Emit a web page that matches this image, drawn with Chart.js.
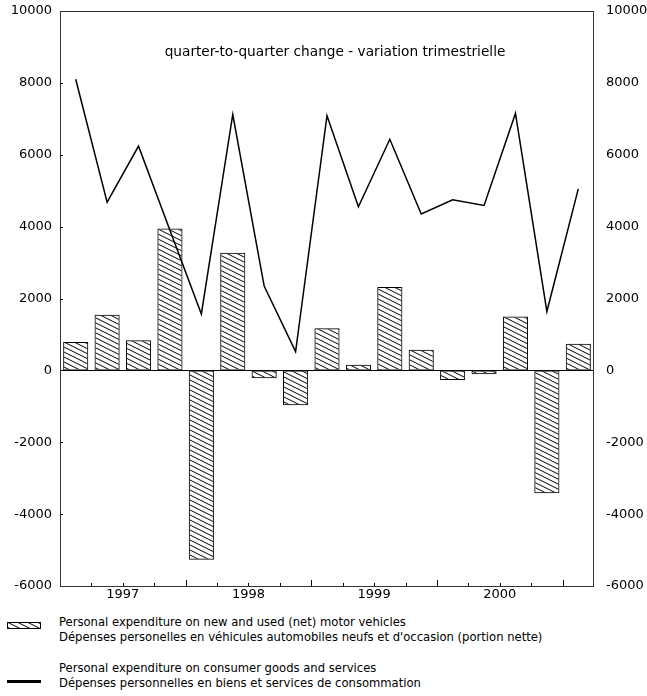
<!DOCTYPE html>
<html>
<head>
<meta charset="utf-8">
<script src="https://cdn.jsdelivr.net/npm/chart.js@4.4.1/dist/chart.umd.min.js"></script>
<style>
  body { margin: 0; background: #fff; }
  #wrap { position: relative; width: 647px; height: 696px; font-family: "DejaVu Sans", sans-serif; }
  #chart { position: absolute; left: 0; top: 0; }
  .leg { position: absolute; left: 59px; font-size: 11.6px; line-height: 15px; color: #000; white-space: nowrap; }
</style>
</head>
<body>
<div id="wrap">
  <canvas id="chart" width="647" height="610"></canvas>
  <canvas id="swatch" width="34" height="7" style="position:absolute;left:7px;top:622px"></canvas>
  <div style="position:absolute;left:7px;top:680px;width:34px;height:3px;background:#000"></div>
  <div class="leg" style="top:615px">Personal expenditure on new and used (net) motor vehicles<br>Dépenses personelles en véhicules automobiles neufs et d'occasion (portion nette)</div>
  <div class="leg" style="top:661px">Personal expenditure on consumer goods and services<br>Dépenses personnelles en biens et services de consommation</div>
</div>
<script>
// quarters 1997Q1 .. 2001Q1
const quarters = ['1997Q1','1997Q2','1997Q3','1997Q4','1998Q1','1998Q2','1998Q3','1998Q4',
                  '1999Q1','1999Q2','1999Q3','1999Q4','2000Q1','2000Q2','2000Q3','2000Q4','2001Q1'];
const vehicles = [790, 1550, 835, 3950, -5270, 3270, -220, -970, 1170, 155, 2320, 575, -270, -105, 1500, -3420, 740];
const consumer = [8100, 4680, 6240, 3900, 1570, 7120, 2345, 520, 7085, 4550, 6430, 4350, 4745, 4590, 7150, 1640, 5050];
const yearLabels = ['1997', '1998', '1999', '2000'];
const yearCenters = [1.5, 5.5, 9.5, 13.5];
const titleText = 'quarter-to-quarter change - variation trimestrielle';

const FONT = 'DejaVu Sans';

function makeHatch(ctx) {
  const c = document.createElement('canvas');
  c.width = 10; c.height = 5;
  const g = c.getContext('2d');
  g.strokeStyle = '#000';
  g.lineWidth = 1;
  g.beginPath();
  for (const dy of [-5, 0, 5]) { g.moveTo(0, dy); g.lineTo(10, dy + 5); }
  g.stroke();
  return ctx.createPattern(c, 'repeat');
}

const ctx = document.getElementById('chart').getContext('2d');
const hatch = makeHatch(ctx);

// legend swatch
const sw = document.getElementById('swatch').getContext('2d');
sw.fillStyle = makeHatch(sw);
sw.fillRect(0, 0, 34, 7);
sw.strokeStyle = '#000';
sw.strokeRect(0.5, 0.5, 33, 6);

// frame, zero line, inside ticks and title
const decor = {
  id: 'decor',
  afterDraw(chart) {
    const { ctx, chartArea: a, scales } = chart;
    const y = scales.y, xy = scales.xYear;
    ctx.save();
    ctx.strokeStyle = '#000';
    ctx.lineWidth = 1;
    ctx.beginPath();
    const y0 = Math.round(y.getPixelForValue(0)) + 0.5;
    ctx.moveTo(a.left, y0); ctx.lineTo(a.right, y0);
    y.ticks.forEach(t => {
      const py = Math.round(y.getPixelForValue(t.value)) + 0.5;
      ctx.moveTo(a.left, py); ctx.lineTo(a.left + 3, py);
    });
    for (let i = 0; i < quarters.length - 1; i++) {
      const px = Math.round(xy.getPixelForValue(i + 0.5)) + 0.5;
      const len = (i % 4 === 3) ? 6 : 3;
      ctx.moveTo(px, a.bottom); ctx.lineTo(px, a.bottom - len);
    }
    ctx.stroke();
    ctx.strokeStyle = '#333';
    ctx.strokeRect(a.left + 0.5, a.top + 0.5, a.right - a.left - 1, a.bottom - a.top);

    ctx.fillStyle = '#000';
    ctx.font = '13.7px "' + FONT + '"';
    ctx.textAlign = 'center';
    ctx.textBaseline = 'alphabetic';
    ctx.fillText(titleText, 335, 56);
    ctx.restore();
  }
};

const tickFont = { family: FONT, size: 13 };
const plain = v => String(v);

new Chart(ctx, {
  type: 'bar',
  data: {
    labels: quarters,
    datasets: [
      {
        type: 'line',
        label: 'Personal expenditure on consumer goods and services',
        data: consumer,
        borderColor: '#000',
        borderWidth: 1.5,
        pointRadius: 0,
        tension: 0,
        order: 0,
        yAxisID: 'y'
      },
      {
        label: 'Personal expenditure on new and used (net) motor vehicles',
        data: vehicles,
        backgroundColor: hatch,
        borderColor: '#000',
        borderWidth: 1,
        borderSkipped: false,
        barPercentage: 0.8,
        categoryPercentage: 1.0,
        order: 1,
        yAxisID: 'y'
      }
    ]
  },
  options: {
    responsive: false,
    animation: false,
    layout: { padding: { top: 11, left: 0, right: 0, bottom: 0 } },
    plugins: { legend: { display: false }, tooltip: { enabled: false } },
    scales: {
      x: { type: 'category', display: false, offset: true },
      xYear: {
        type: 'linear', position: 'bottom', min: -0.5, max: 16.5, offset: false,
        grid: { display: false, drawTicks: false },
        border: { display: false },
        afterBuildTicks: s => { s.ticks = yearCenters.map(v => ({ value: v })); },
        afterFit: s => { s.height = 24; s.paddingLeft = 0; s.paddingRight = 0; },
        ticks: {
          autoSkip: false, maxRotation: 0, padding: 1, color: '#000', font: tickFont,
          callback: v => { const k = yearCenters.indexOf(v); return k >= 0 ? yearLabels[k] : ''; }
        }
      },
      y: {
        position: 'left', min: -6000, max: 10000,
        grid: { display: false, drawTicks: false },
        border: { display: false },
        afterFit: s => { s.width = 60; s.paddingTop = 0; s.paddingBottom = 0; },
        ticks: { stepSize: 2000, padding: 8, color: '#000', font: tickFont, callback: plain }
      },
      y2: {
        position: 'right', min: -6000, max: 10000,
        grid: { display: false, drawTicks: false },
        border: { display: false },
        afterFit: s => { s.width = 53; s.paddingTop = 0; s.paddingBottom = 0; },
        ticks: { stepSize: 2000, padding: 12, color: '#000', font: tickFont, callback: plain }
      }
    }
  },
  plugins: [decor]
});
</script>
</body>
</html>
